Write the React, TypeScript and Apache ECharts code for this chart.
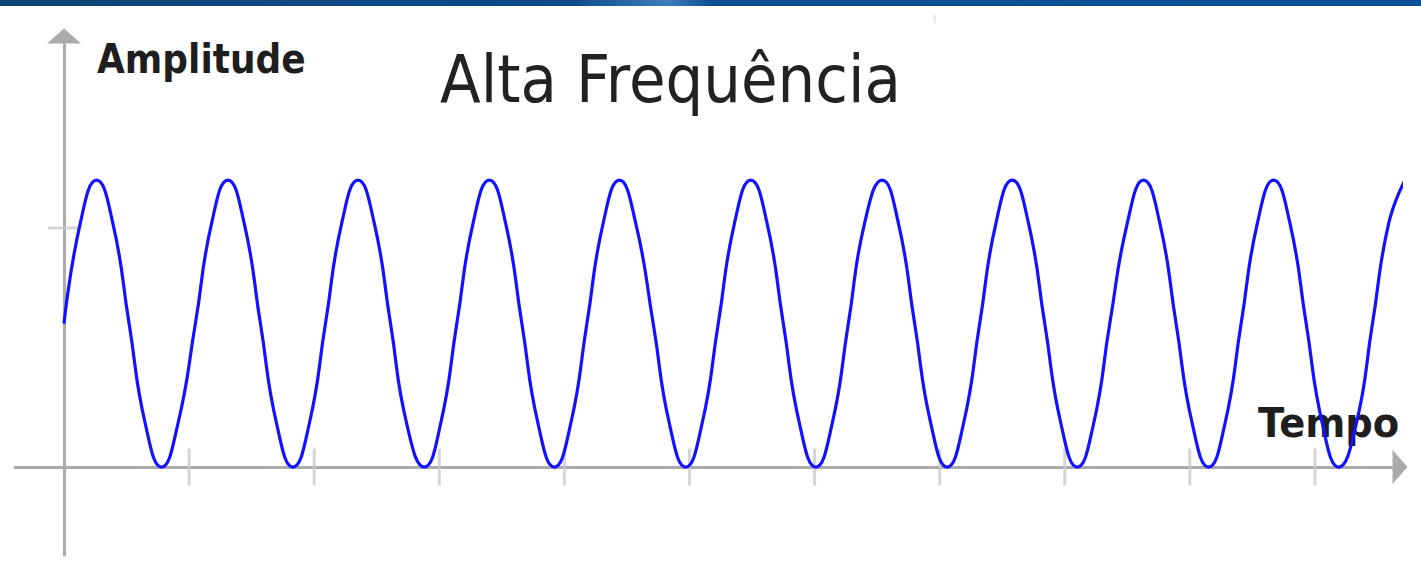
import React, { useEffect, useRef } from "react";
import * as echarts from "echarts";

// Wave readings (time units = x-axis tick spacing, amplitude units = y-axis tick)
const times = [
  0.0, 0.13, 0.26, 0.39, 0.52, 0.65, 0.78, 0.91, 1.05, 1.18, 1.31, 1.44, 1.57, 1.7,
  1.83, 1.96, 2.09, 2.22, 2.35, 2.48, 2.61, 2.74, 2.88, 3.01, 3.14, 3.27, 3.4, 3.53,
  3.66, 3.79, 3.92, 4.05, 4.18, 4.31, 4.44, 4.57, 4.71, 4.84, 4.97, 5.1, 5.23, 5.36,
  5.49, 5.62, 5.75, 5.88, 6.01, 6.14, 6.27, 6.4, 6.54, 6.67, 6.8, 6.93, 7.06, 7.19,
  7.32, 7.45, 7.58, 7.71, 7.84, 7.97, 8.1, 8.23, 8.36, 8.5, 8.63, 8.76, 8.89, 9.02,
  9.15, 9.28, 9.41, 9.54, 9.67, 9.8, 9.93, 10.06, 10.19, 10.33, 10.46, 10.59, 10.72,
];
const amplitudes = [
  0.6, 1.02, 1.2, 1.02, 0.6, 0.18, 0, 0.18,
  0.6, 1.02, 1.2, 1.02, 0.6, 0.18, 0, 0.18,
  0.6, 1.02, 1.2, 1.02, 0.6, 0.18, 0, 0.18,
  0.6, 1.02, 1.2, 1.02, 0.6, 0.18, 0, 0.18,
  0.6, 1.02, 1.2, 1.02, 0.6, 0.18, 0, 0.18,
  0.6, 1.02, 1.2, 1.02, 0.6, 0.18, 0, 0.18,
  0.6, 1.02, 1.2, 1.02, 0.6, 0.18, 0, 0.18,
  0.6, 1.02, 1.2, 1.02, 0.6, 0.18, 0, 0.18,
  0.6, 1.02, 1.2, 1.02, 0.6, 0.18, 0, 0.18,
  0.6, 1.02, 1.2, 1.02, 0.6, 0.18, 0, 0.18,
  0.6, 1.02, 1.2,
];
const xTicks = [1, 2, 3, 4, 5, 6, 7, 8, 9, 10];
const yTicks = [1];

const title = "Alta Frequência";
const yName = "Amplitude";
const xName = "Tempo";

export default function App() {
  const ref = useRef<HTMLDivElement>(null);
  useEffect(() => {
    if (!ref.current) return;
    const chart = echarts.init(ref.current, undefined, { renderer: "svg" });
    const axisLineStyle = { color: "#ababab", width: 3 };
    chart.setOption({
      animation: false,
      backgroundColor: "#ffffff",
      grid: { left: 15, right: 21, top: 36, bottom: 8 },
      xAxis: {
        type: "value",
        min: -0.392,
        max: 10.68,
        axisLabel: { show: false },
        axisTick: { show: false },
        splitLine: { show: false },
        axisLine: {
          onZero: true,
          lineStyle: axisLineStyle,
          symbol: ["none", "triangle"],
          symbolSize: [34, 15],
        },
      },
      yAxis: {
        type: "value",
        min: -0.368,
        max: 1.803,
        axisLabel: { show: false },
        axisTick: { show: false },
        splitLine: { show: false },
        axisLine: {
          onZero: true,
          lineStyle: axisLineStyle,
          symbol: ["none", "triangle"],
          symbolSize: [34, 15],
        },
      },
      series: [
        {
          type: "scatter",
          silent: true,
          z: 1,
          symbol: "rect",
          symbolSize: [3, 37],
          itemStyle: { color: "#cacaca" },
          data: xTicks.map((v) => [v, 0]),
        },
        {
          type: "scatter",
          silent: true,
          z: 1,
          symbol: "rect",
          symbolSize: [32, 3],
          itemStyle: { color: "#cacaca" },
          data: yTicks.map((v) => [0, v]),
        },
        {
          type: "line",
          silent: true,
          z: 5,
          clip: false,
          smooth: 0.5,
          showSymbol: false,
          lineStyle: { color: "#1212ff", width: 3.2 },
          data: times.map((t, i) => [t, amplitudes[i]]),
        },
      ],
      graphic: [
        {
          type: "rect",
          z: 0,
          shape: { x: 0, y: 0, width: 1421, height: 6 },
          style: {
            fill: new echarts.graphic.LinearGradient(0, 0, 1, 0, [
              { offset: 0, color: "#0a4676" },
              { offset: 0.4, color: "#0c4a88" },
              { offset: 0.47, color: "#3f7cbc" },
              { offset: 0.5, color: "#0e4f92" },
              { offset: 1, color: "#0e5096" },
            ]),
          },
        },
        {
          type: "rect",
          z: 0,
          shape: { x: 933, y: 15, width: 3, height: 8 },
          style: { fill: "#ececec" },
        },
        {
          type: "text",
          z: 0,
          x: 440,
          y: 79,
          scaleY: 1.12,
          style: {
            text: title,
            font: "normal 59.5px 'DejaVu Sans'",
            fill: "#222222",
            verticalAlign: "middle",
            align: "left",
          },
        },
        {
          type: "text",
          z: 0,
          x: 97,
          y: 59,
          scaleY: 1.15,
          style: {
            text: yName,
            font: "bold 36px 'DejaVu Sans'",
            fill: "#1e1e1e",
            verticalAlign: "middle",
            align: "left",
          },
        },
        {
          type: "text",
          z: 0,
          x: 1258,
          y: 422,
          scaleY: 1.08,
          style: {
            text: xName,
            font: "bold 38.5px 'DejaVu Sans'",
            fill: "#1e1e1e",
            verticalAlign: "middle",
            align: "left",
          },
        },
      ],
    });
    return () => chart.dispose();
  }, []);
  return (
    <div
      ref={ref}
      style={{ position: "fixed", left: 0, top: 0, width: 1421, height: 563, background: "#fff" }}
    />
  );
}
